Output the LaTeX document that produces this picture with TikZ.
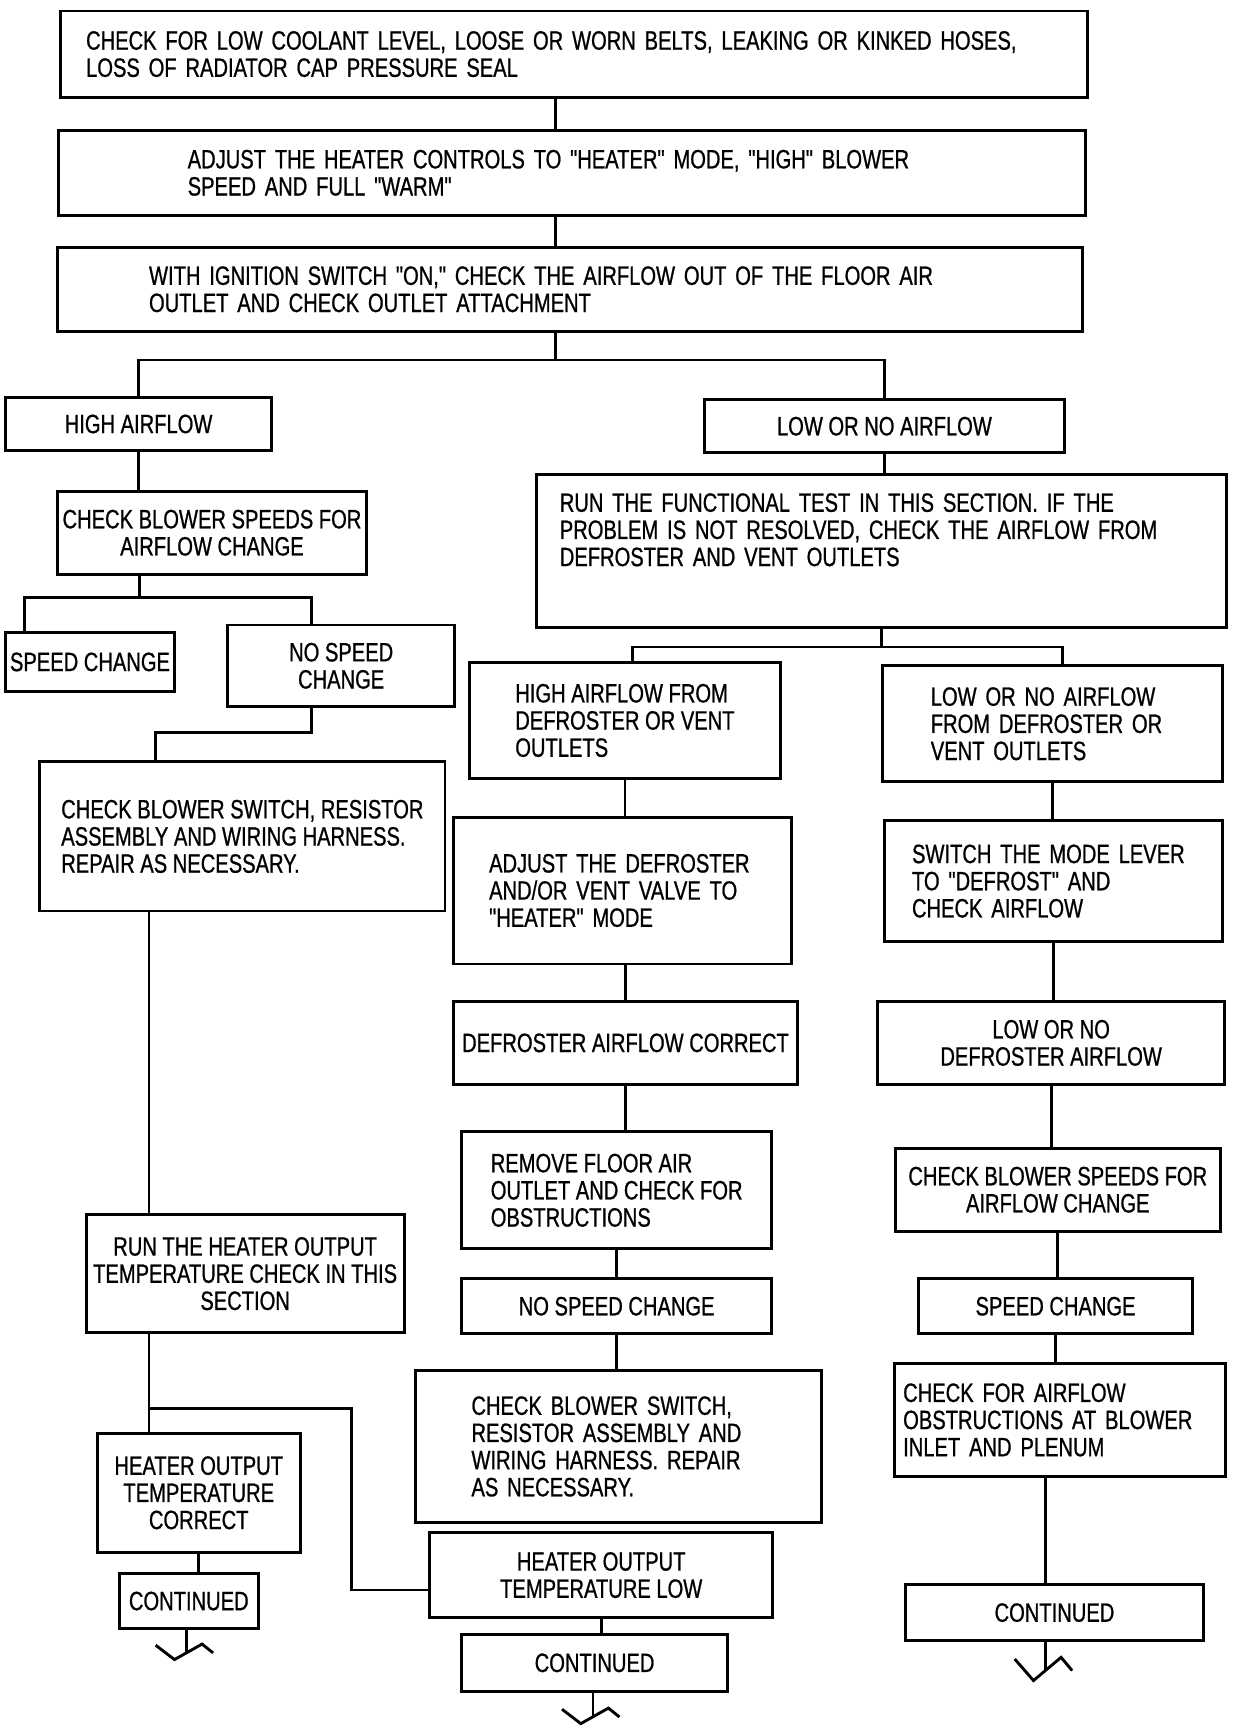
\documentclass[tikz,border=0pt]{standalone}
\usepackage{fontspec}
\setmainfont{Liberation Sans}[FakeStretch=0.76, FakeBold=0.8, Ligatures=TeXOff]
\tikzstyle{process} = [rectangle, draw=black, line width=1.3pt, align=left, inner sep=1pt, font=\fontsize{12}{12.3}\selectfont]
\tikzstyle{result} = [process, align=center]
\tikzstyle{line} = [line width=1.3pt]
\tikzset{brk/.pic={\draw[line] (-28,-7) -- (-11,6) -- (14,-8) -- (24,0);}}

\begin{document}
\begin{tikzpicture}[x=0.5pt, y=-0.5pt]
	\useasboundingbox (0,0) rectangle (1130,1565);

	% top checks
	\node (pCoolant)[process, minimum width=465pt, minimum height=39pt, text width=442pt] at (520,49) {CHECK FOR LOW COOLANT LEVEL, LOOSE OR WORN BELTS, LEAKING OR KINKED HOSES, \\ LOSS OF RADIATOR CAP PRESSURE SEAL};
	\node (pControls)[process, minimum width=465pt, minimum height=38.5pt, text width=348pt] at (518,156.5) {ADJUST THE HEATER CONTROLS TO "HEATER" MODE, "HIGH" BLOWER \\ SPEED AND FULL "WARM"};
	\node (pIgnition)[process, minimum width=464pt, minimum height=38pt, text width=381pt] at (516,262) {WITH IGNITION SWITCH "ON," CHECK THE AIRFLOW OUT OF THE FLOOR AIR \\ OUTLET AND CHECK OUTLET ATTACHMENT};

	% high airflow branch
	\node (pHighAir)[result, minimum width=120.5pt, minimum height=24pt] at (125.5,384) {HIGH AIRFLOW};
	\node (pSpeedsL)[result, minimum width=140pt, minimum height=37.5pt] at (192,482.5) {CHECK BLOWER SPEEDS FOR \\ AIRFLOW CHANGE};
	\node (pSpeedChgL)[result, minimum width=76.5pt, minimum height=26.5pt] at (81.5,599.5) {SPEED CHANGE};
	\node (pNoSpeedL)[result, minimum width=103pt, minimum height=37pt] at (309,603) {NO SPEED \\ CHANGE};
	\node (pSwitchL)[process, minimum width=183.5pt, minimum height=67.5pt] at (219.5,757.5) {CHECK BLOWER SWITCH, RESISTOR \\ ASSEMBLY AND WIRING HARNESS. \\ REPAIR AS NECESSARY.};
	\node (pRunHeater)[result, minimum width=144pt, minimum height=53.5pt] at (222,1153.5) {RUN THE HEATER OUTPUT \\ TEMPERATURE CHECK IN THIS \\ SECTION};
	\node (pTempOk)[result, minimum width=92pt, minimum height=54pt] at (180,1352) {HEATER OUTPUT \\ TEMPERATURE \\ CORRECT};
	\node (pContL)[result, minimum width=63pt, minimum height=25pt] at (171,1450) {CONTINUED};

	% low airflow branch
	\node (pLowAir)[result, minimum width=163pt, minimum height=24pt] at (801,386) {LOW OR NO AIRFLOW};
	\node (pFuncTest)[process, minimum width=312.5pt, minimum height=69pt, text width=291.5pt] at (798.5,499) {RUN THE FUNCTIONAL TEST IN THIS SECTION. IF THE \\ PROBLEM IS NOT RESOLVED, CHECK THE AIRFLOW FROM \\ DEFROSTER AND VENT OUTLETS \\[7pt] \mbox{}};

	\node (pHighDef)[process, minimum width=141pt, minimum height=52.5pt] at (566,652.5) {HIGH AIRFLOW FROM \\ DEFROSTER OR VENT \\ OUTLETS};
	\node (pAdjust)[process, minimum width=153pt, minimum height=66.5pt, text width=121pt] at (564,806.5) {ADJUST THE DEFROSTER \\ AND/OR VENT VALVE TO \\ "HEATER" MODE};
	\node (pDefOk)[result, minimum width=155.5pt, minimum height=37.5pt] at (566.5,944.5) {DEFROSTER AIRFLOW CORRECT};
	\node (pRemove)[process, minimum width=140.5pt, minimum height=53pt] at (558.5,1078) {REMOVE FLOOR AIR \\ OUTLET AND CHECK FOR \\ OBSTRUCTIONS};
	\node (pNoSpeedM)[result, minimum width=140.5pt, minimum height=25pt] at (558.5,1183) {NO SPEED CHANGE};
	\node (pSwitchM)[process, minimum width=184pt, minimum height=69pt, text width=133pt] at (560,1310) {CHECK BLOWER SWITCH, \\ RESISTOR ASSEMBLY AND \\ WIRING HARNESS. REPAIR \\ AS NECESSARY.};
	\node (pTempLow)[result, minimum width=155.5pt, minimum height=38.5pt] at (544.5,1426.5) {HEATER OUTPUT \\ TEMPERATURE LOW};
	\node (pContM)[result, minimum width=120.5pt, minimum height=26pt] at (538.5,1506) {CONTINUED};

	\node (pLowDef)[process, minimum width=154pt, minimum height=52.5pt, text width=110pt] at (953,655.5) {LOW OR NO AIRFLOW \\ FROM DEFROSTER OR \\ VENT OUTLETS};
	\node (pModeLever)[process, minimum width=153pt, minimum height=55pt, text width=128pt] at (954,798) {SWITCH THE MODE LEVER \\ TO "DEFROST" AND \\ CHECK AIRFLOW};
	\node (pLowDefAir)[result, minimum width=157pt, minimum height=37.5pt] at (952,944.5) {LOW OR NO \\ DEFROSTER AIRFLOW};
	\node (pSpeedsR)[result, minimum width=147pt, minimum height=37.5pt] at (958,1077.5) {CHECK BLOWER SPEEDS FOR \\ AIRFLOW CHANGE};
	\node (pSpeedChgR)[result, minimum width=124pt, minimum height=25pt] at (956,1183) {SPEED CHANGE};
	\node (pObstruct)[process, minimum width=150pt, minimum height=51pt, text width=142pt] at (960,1286) {CHECK FOR AIRFLOW \\ OBSTRUCTIONS AT BLOWER \\ INLET AND PLENUM};
	\node (pContR)[result, minimum width=135pt, minimum height=25.5pt] at (955,1460.5) {CONTINUED};

	% junctions
	\coordinate (jTrunk) at (503,326);
	\coordinate (jSpeeds) at (126,541);
	\coordinate (jSpeedChg) at (22,541);
	\coordinate (jNoSpeed) at (282,541);
	\coordinate (jBendA) at (282,663);
	\coordinate (jBendB) at (141,663);
	\coordinate (jHeater) at (135,1276);
	\coordinate (jLowA) at (318,1276);
	\coordinate (jLowB) at (318,1440);
	\coordinate (jFunc) at (798,586);
	\coordinate (jHighDef) at (573,586);
	\coordinate (jLowDef) at (962,586);

	% break marks
	\coordinate (bContL) at (169,1497);
	\coordinate (bContM) at (537,1555);
	\coordinate (bContR) at (947,1513);

	% lines
	\draw[line] (pCoolant.south -| jTrunk) -- (pControls.north -| jTrunk);
	\draw[line] (pControls.south -| jTrunk) -- (pIgnition.north -| jTrunk);
	\draw[line] (pIgnition.south -| jTrunk) -- (jTrunk);
	\draw[line] (pHighAir.north) -- (pHighAir.north |- jTrunk) -- (pLowAir.north |- jTrunk) -- (pLowAir.north);

	\draw[line] (pHighAir.south) -- (pHighAir.south |- pSpeedsL.north);
	\draw[line] (pSpeedsL.south -| jSpeeds) -- (jSpeeds);
	\draw[line] (pSpeedChgL.north -| jSpeedChg) -- (jSpeedChg) -- (jNoSpeed) -- (pNoSpeedL.north -| jNoSpeed);
	\draw[line] (pNoSpeedL.south -| jBendA) -- (jBendA) -- (jBendB) -- (pSwitchL.north -| jBendB);
	\draw[line] (pSwitchL.south -| jHeater) -- (pRunHeater.north -| jHeater);
	\draw[line] (pRunHeater.south -| jHeater) -- (pTempOk.north -| jHeater);
	\draw[line] (jHeater) -- (jLowA) -- (jLowB) -- (pTempLow.west |- jLowB);
	\draw[line] (pTempOk.south) -- (pTempOk.south |- pContL.north);

	\draw[line] (pLowAir.south) -- (pLowAir.south |- pFuncTest.north);
	\draw[line] (pFuncTest.south -| jFunc) -- (jFunc);
	\draw[line] (pHighDef.north -| jHighDef) -- (jHighDef) -- (jLowDef) -- (pLowDef.north -| jLowDef);
	\draw[line] (pHighDef.south) -- (pHighDef.south |- pAdjust.north);
	\draw[line] (pDefOk.north) -- (pDefOk.north |- pAdjust.south);
	\draw[line] (pDefOk.south) -- (pDefOk.south |- pRemove.north);
	\draw[line] (pRemove.south) -- (pRemove.south |- pNoSpeedM.north);
	\draw[line] (pNoSpeedM.south) -- (pNoSpeedM.south |- pSwitchM.north);
	\draw[line] (pTempLow.south) -- (pTempLow.south |- pContM.north);

	\draw[line] (pLowDef.south) -- (pLowDef.south |- pModeLever.north);
	\draw[line] (pModeLever.south) -- (pModeLever.south |- pLowDefAir.north);
	\draw[line] (pLowDefAir.south) -- (pLowDefAir.south |- pSpeedsR.north);
	\draw[line] (pSpeedsR.south) -- (pSpeedsR.south |- pSpeedChgR.north);
	\draw[line] (pSpeedChgR.south) -- (pSpeedChgR.south |- pObstruct.north);
	\draw[line] (pObstruct.south -| bContR) -- (pContR.north -| bContR);

	\draw[line] (pContL.south -| bContL) -- (bContL);
	\draw[line] (pContM.south -| bContM) -- (bContM);
	\draw[line] (pContR.south -| bContR) -- (bContR);
	\pic at (bContL) {brk};
	\pic at (bContM) {brk};
	\pic[yscale=1.5] at (bContR) {brk};

\end{tikzpicture}
\end{document}
